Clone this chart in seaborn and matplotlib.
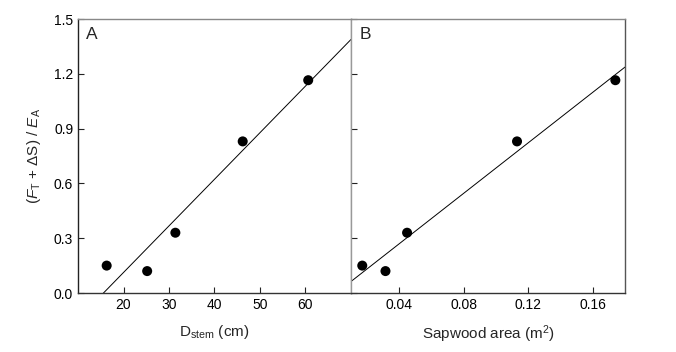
import numpy as np
import pandas as pd
import seaborn as sns
import matplotlib.pyplot as plt
import matplotlib.ticker as ticker

# data
d_stem = [16.3, 25.2, 31.4, 46.2, 60.6]
sapwood = [0.017, 0.0314, 0.0448, 0.113, 0.174]
ratio = [0.15, 0.12, 0.33, 0.83, 1.165]

df = pd.DataFrame({"d_stem": d_stem, "sapwood": sapwood, "ratio": ratio})

sns.set_style("ticks")
plt.rcParams["font.family"] = ["Liberation Sans", "DejaVu Sans"]
plt.rcParams["mathtext.fontset"] = "custom"
plt.rcParams["mathtext.rm"] = "Liberation Sans"
plt.rcParams["mathtext.it"] = "Liberation Sans:italic"

fig = plt.figure(figsize=(6.76, 3.52), dpi=100)
axA = fig.add_axes([0.1154, 0.1676, 0.4038, 0.7784])
axB = fig.add_axes([0.5192, 0.1676, 0.4054, 0.7784], sharey=axA)

axA.set_xlim(10, 70)
axB.set_xlim(0.01, 0.18)
axA.set_ylim(0, 1.5)

for ax, xcol in [(axA, "d_stem"), (axB, "sapwood")]:
    sns.regplot(data=df, x=xcol, y="ratio", ax=ax, ci=None, truncate=False,
                scatter=False, line_kws={"color": "black", "lw": 0.7})
    sns.scatterplot(data=df, x=xcol, y="ratio", ax=ax, color="black",
                    s=52, edgecolor="none", zorder=3)
    ax.tick_params(direction="in", length=4, width=0.8, labelsize=10,
                   colors="#222222", labelcolor="black")

axA.set_xticks([20, 30, 40, 50, 60])
axB.set_xticks([0.04, 0.08, 0.12, 0.16])
axB.xaxis.set_major_formatter(ticker.FormatStrFormatter("%.2f"))
axA.set_yticks([0.0, 0.3, 0.6, 0.9, 1.2, 1.5])
axA.yaxis.set_major_formatter(ticker.FormatStrFormatter("%.1f"))
axB.tick_params(axis="y", labelleft=False)

axA.set_xlabel(r"D$_\mathrm{stem}$ (cm)", fontsize=11, labelpad=8)
axB.set_xlabel(r"Sapwood area (m$^2$)", fontsize=11, labelpad=8)
axA.set_ylabel(r"($\mathit{F}_\mathrm{T}$ + $\Delta$S) / $\mathit{E}_\mathrm{A}$",
               fontsize=11, labelpad=8)
axB.set_ylabel("")

axA.text(0.03, 0.97, "A", transform=axA.transAxes, ha="left", va="top", fontsize=12.5)
axB.text(0.03, 0.97, "B", transform=axB.transAxes, ha="left", va="top", fontsize=12.5)

for ax in (axA, axB):
    for side in ["top", "right", "left", "bottom"]:
        ax.spines[side].set_visible(True)
        ax.spines[side].set_linewidth(1.0)
    ax.spines["top"].set_color("#888888")
    ax.spines["bottom"].set_color("#333333")
axA.spines["left"].set_color("#222222")
axA.spines["right"].set_color("#999999")
axB.spines["left"].set_color("#999999")
axB.spines["right"].set_color("#555555")

fig.savefig("out.png", dpi=100)
plt.close()
